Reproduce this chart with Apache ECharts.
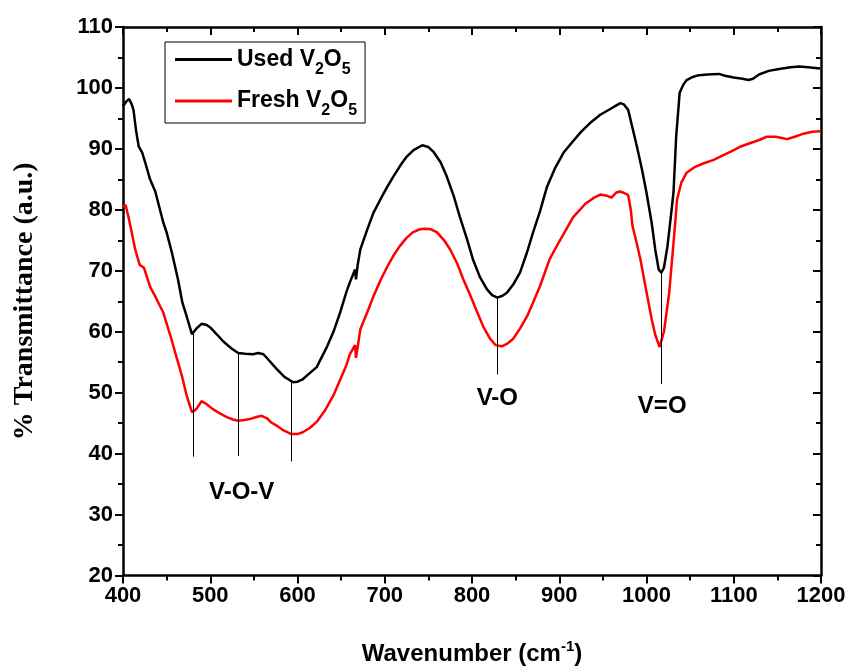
<!DOCTYPE html>
<html>
<head>
<meta charset="utf-8">
<script src="https://cdn.jsdelivr.net/npm/echarts@6/dist/echarts.min.js"></script>
<style>
html,body{margin:0;padding:0;background:#fff;}
#c{width:851px;height:671px;}
</style>
</head>
<body>
<div id="c"></div>
<script>
// Used V2O5 (black) [wavenumber, %T]
const usedData = [
[400,97.0],[404,97.8],[407,98.2],[410,97.3],[412,96.4],[415,93],[418,90.4],[422,89.4],[426,87.5],[431,85],
[437,83],[441,80.8],[446,78],[450,76.3],[456,73],[463,68.6],[468,64.8],[473,62.5],[479,59.6],[484,60.5],
[490,61.3],[496,61.1],[500,60.7],[508,59.5],[515,58.4],[524,57.3],[532,56.5],[540,56.4],[549,56.3],[555,56.5],
[561,56.3],[568,55.2],[576,53.9],[585,52.6],[595,51.7],[600,51.8],[606,52.2],[614,53.2],[622,54.2],[634,57.6],
[641,59.9],[649,63.2],[656,66.5],[660,68.1],[664,69.5],[666,70.2],[667,68.6],[669,71],[672,73.5],[680,76.8],
[687,79.5],[695,81.7],[703,83.8],[710,85.5],[718,87.3],[725,88.7],[733,89.8],[743,90.6],[750,90.3],[756,89.5],
[764,87.8],[771,85.5],[779,82.3],[786,78.9],[794,75.3],[801,71.9],[809,69],[817,67.0],[823,66],[829,65.6],
[835,65.9],[840,66.4],[847,67.7],[855,69.7],[863,73],[870,76.3],[878,79.8],[886,83.8],[895,86.8],[905,89.4],
[916,91.3],[925,92.8],[935,94.2],[947,95.6],[958,96.5],[965,97.1],[970,97.5],[974,97.3],[979,96.4],[983,94],
[989,90.4],[995,86.5],[1000,82.8],[1006,77.8],[1010,73.5],[1014,70.2],[1017,69.7],[1020,70.5],[1024,74],[1028,79],
[1031,83],[1034,92],[1038,99.2],[1042,100.5],[1046,101.3],[1053,101.8],[1060,102.1],[1070,102.2],[1083,102.3],[1090,102.0],
[1100,101.7],[1110,101.5],[1117,101.3],[1122,101.5],[1129,102.2],[1140,102.8],[1152,103.1],[1165,103.4],[1175,103.5],[1185,103.4],
[1199,103.2]
];
// Fresh V2O5 (red)
const freshData = [
[400,80.5],[403,80.8],[406,79],[410,76.3],[414,73.5],[419,71.0],[424,70.5],[431,67.4],[438,65.5],[446,63.2],
[454,59.5],[462,55.5],[468,52.5],[473,49.5],[479,46.8],[484,47.3],[490,48.6],[496,48.1],[503,47.3],[511,46.6],
[519,46.0],[526,45.6],[532,45.4],[539,45.5],[546,45.7],[553,46],[559,46.2],[565,45.8],[570,45.1],[576,44.6],
[584,43.8],[593,43.2],[600,43.2],[606,43.5],[614,44.2],[622,45.2],[632,47.2],[641,49.5],[650,52.5],[656,54.5],
[660,56.3],[664,57.3],[666,57.8],[667,55.7],[669,57.5],[672,60.4],[680,63.2],[687,65.8],[695,68.4],[703,70.7],
[710,72.5],[717,74.0],[725,75.4],[732,76.3],[740,76.8],[746,76.9],[753,76.8],[760,76.3],[768,75],[775,73.5],
[783,71.2],[790,68.6],[798,66],[806,63.2],[813,60.8],[821,58.8],[827,57.8],[834,57.6],[840,58],[847,58.8],
[855,60.5],[863,62.5],[870,64.8],[878,67.5],[889,71.9],[900,74.8],[916,78.8],[930,81],[940,82],[947,82.5],
[955,82.3],[960,82],[965,82.8],[969,83],[974,82.8],[979,82.4],[982,80],[984,77.3],[988,75],[993,71.9],
[1000,66.5],[1006,62],[1010,59.5],[1015,57.5],[1020,60],[1026,66.4],[1030,73],[1033,78],[1035,81.7],[1040,84.5],
[1046,86.1],[1055,87],[1065,87.6],[1077,88.2],[1090,89.1],[1100,89.8],[1108,90.4],[1120,91],[1130,91.5],[1138,92],
[1148,92],[1155,91.8],[1161,91.6],[1170,92],[1180,92.5],[1190,92.8],[1199,92.9]
];
// Peak marker lines: [wavenumber, top, bottom]
const peakLines = [[480,59.6,39.5],[532,56.5,39.6],[593,51.7,38.7],[829,65.6,53.0],[1017,69.7,51.4]];
// Band labels: [wavenumber, value, text]
const bandLabels = [[536,33.7,'V-O-V'],[829,49.0,'V-O'],[1018,47.7,'V=O']];
const seriesNames = ['Used V2O5','Fresh V2O5'];

const NARROW = '"Liberation Sans Narrow","Arial Narrow","Liberation Sans",Arial,sans-serif';
const chart = echarts.init(document.getElementById('c'), null, {renderer:'canvas'});

const axisCommon = {
  axisLine:{show:true, onZero:false, lineStyle:{color:'#000', width:2.5}},
  splitLine:{show:false},
  minorTick:{show:true, splitNumber:2, length:5, lineStyle:{color:'#000', width:2}},
  axisTick:{show:true, length:8, lineStyle:{color:'#000', width:2}}
};
const plain = v => String(v);

chart.setOption({
  animation:false,
  backgroundColor:'#fff',
  grid:{left:123, right:30, top:27, bottom:94},
  legend:{
    orient:'vertical', left:165, top:42,
    data:seriesNames.map(n=>({name:n, icon:'rect'})),
    borderColor:'#000', borderWidth:1,
    padding:[6,8,4,10],
    itemWidth:57, itemHeight:3, itemGap:12,
    formatter:function(n){ return n==='Used V2O5' ? '{b|Used V}{s|2}{b|O}{s|5}' : '{b|Fresh V}{s|2}{b|O}{s|5}'; },
    textStyle:{
      rich:{
        b:{fontFamily:NARROW, fontWeight:'bold', fontSize:23, color:'#000'},
        s:{fontFamily:NARROW, fontWeight:'bold', fontSize:16, color:'#000', padding:[20,0,0,0]}
      }
    }
  },
  xAxis:[
    Object.assign({}, axisCommon, {
      type:'value', min:400, max:1200, interval:100, position:'bottom',
      axisLabel:{fontFamily:NARROW, fontWeight:'bold', fontSize:22, color:'#000', margin:9, formatter:plain},
      name:'Wavenumber (cm{sup|-1})', nameLocation:'middle', nameGap:64,
      nameTextStyle:{fontFamily:NARROW, fontWeight:'bold', fontSize:24, color:'#000',
        rich:{sup:{fontFamily:NARROW, fontWeight:'bold', fontSize:15, color:'#000', padding:[0,0,14,0]}}}
    }),
    Object.assign({}, axisCommon, {
      type:'value', min:400, max:1200, interval:100, position:'top',
      axisLabel:{show:false},
      axisTick:{show:true, inside:true, length:8, lineStyle:{color:'#000', width:2}},
      minorTick:{show:true, splitNumber:2, length:5, lineStyle:{color:'#000', width:2}}
    })
  ],
  yAxis:[
    Object.assign({}, axisCommon, {
      type:'value', min:20, max:110, interval:10, position:'left',
      axisLabel:{fontFamily:NARROW, fontWeight:'bold', fontSize:22, color:'#000', margin:10, formatter:plain},
      name:'% Transmittance (a.u.)', nameLocation:'middle', nameGap:84,
      nameTextStyle:{fontFamily:'"Liberation Serif","Times New Roman",serif', fontWeight:'bold', fontSize:28, color:'#000'}
    }),
    Object.assign({}, axisCommon, {
      type:'value', min:20, max:110, interval:10, position:'right',
      axisLabel:{show:false},
      axisTick:{show:true, inside:true, length:8, lineStyle:{color:'#000', width:2}},
      minorTick:{show:true, splitNumber:2, length:5, lineStyle:{color:'#000', width:2}}
    })
  ],
  series:[
    {name:'Used V2O5', type:'line', data:usedData, symbol:'none', lineStyle:{color:'#000', width:2.5}, itemStyle:{color:'#000'}, z:3},
    {name:'Fresh V2O5', type:'line', data:freshData, symbol:'none', lineStyle:{color:'#ff0000', width:2.5}, itemStyle:{color:'#ff0000'}, z:3},
    {name:'peaks', type:'line', data:[], symbol:'none',
      markLine:{silent:true, symbol:'none', label:{show:false},
        lineStyle:{color:'#000', width:1, type:'solid'},
        data:peakLines.map(p=>[{coord:[p[0],p[1]]},{coord:[p[0],p[2]]}])}},
    {name:'bands', type:'scatter', symbolSize:0, itemStyle:{opacity:1},
      data:bandLabels.map(b=>[b[0],b[1],b[2]]),
      label:{show:true, position:'inside', formatter:p=>p.data[2],
        fontFamily:NARROW, fontWeight:'bold', fontSize:24, color:'#000'}}
  ]
});
</script>
</body>
</html>
